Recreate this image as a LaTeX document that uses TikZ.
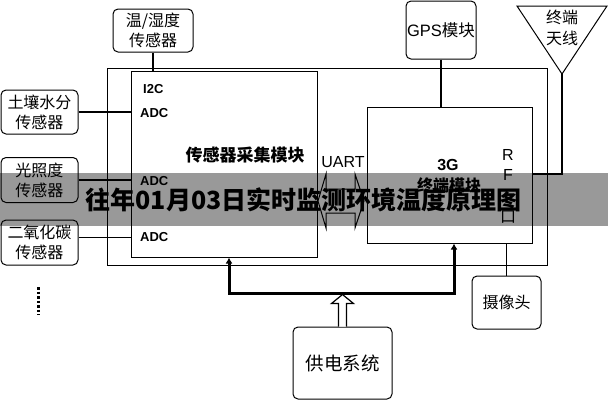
\documentclass[tikz,border=0pt]{standalone}
\usepackage{fontspec}
\setmainfont{Liberation Sans}
\newfontfamily\cjk{Noto Sans CJK SC}
\usetikzlibrary{arrows.meta}
\tikzset{
  rbox/.style={draw, line width=1pt, rounded corners=5pt, inner sep=0pt, align=center,
    font=\cjk\fontsize{16}{20}\selectfont},
  sqbox/.style={draw, line width=1pt, inner sep=0pt},
  link/.style={line width=1.6pt},
  thin link/.style={line width=1.1pt},
  portlbl/.style={anchor=west, inner sep=0pt, font=\bfseries\fontsize{13}{13}\selectfont},
  power/.style={line width=3pt, {Latex[length=6pt,width=7pt]}-{Latex[length=6pt,width=7pt]}},
}
\begin{document}
\begin{tikzpicture}[x=1pt,y=-1pt]
\useasboundingbox (0,0) rectangle (608,400);
\fill[white] (0,0) rectangle (608,400);
% main frames
\node[sqbox, minimum width=440pt, minimum height=197pt] (outer) at (327,166.5) {};
\node[sqbox, fill=white, minimum width=186pt, minimum height=186pt] (sens) at (224,164) {};
\node[sqbox, fill=white, minimum width=165pt, minimum height=136pt] (g3) at (449.5,175) {};
% sensors
\node[rbox, minimum width=80pt, minimum height=43pt] (th) at (153,30.5) {温/湿度\\传感器};
\node[rbox, minimum width=77pt, minimum height=44pt] (soil) at (39.5,112) {土壤水分\\传感器};
\node[rbox, minimum width=77pt, minimum height=45pt] (light) at (39.5,180) {光照度\\传感器};
\node[rbox, minimum width=77pt, minimum height=45pt] (co2) at (39.5,242.5) {二氧化碳\\传感器};
% other modules
\node[rbox, minimum width=70pt, minimum height=58pt, font=\fontsize{16.5}{20}\selectfont] (gps) at (441,30) {GPS{\cjk 模块}};
\node[rbox, minimum width=69pt, minimum height=53pt] (cam) at (506.5,302.5) {摄像头};
\node[rbox, minimum width=99pt, minimum height=72pt, font=\cjk\fontsize{18.5}{22}\selectfont] (pwr) at (342.5,363) {供电系统};
% antenna
\coordinate (antl) at (517,6);
\coordinate (antr) at (607,6);
\coordinate (ant) at (562,74);
\draw[line width=1pt] (antl) -- (antr) -- (ant) -- cycle;
\node[inner sep=0pt, align=center, font=\cjk\fontsize{16}{21}\selectfont] (antlbl) at (562,28) {终端\\天线};
% connectors
\draw[link] (th.south) -- (th.south |- sens.north);
\draw[thin link] (soil.east) -- (soil.east -| sens.west);
\draw[thin link] (light.east) -- (light.east -| sens.west);
\draw[link] ([yshift=5pt]co2.east) -- ([yshift=5pt]co2.east -| sens.west);
\draw[link] (gps.south) -- (gps.south |- g3.north);
\draw[link] (ant) |- ([yshift=1pt]g3.east);
\draw[link] (cam.north) -- (cam.north |- g3.south);
% labels inside sensor module
\node[portlbl] (i2c) at (143,89) {I2C};
\node[portlbl] (adc1) at (140,113) {ADC};
\node[portlbl] (adc2) at (140,181) {ADC};
\node[portlbl] (adc3) at (140,237) {ADC};
\node[inner sep=0pt, font=\cjk\bfseries\fontsize{17}{17}\selectfont] (senslbl) at (245,155) {传感器采集模块};
% 3G module labels
\node[inner sep=0pt, font=\bfseries\fontsize{16}{16}\selectfont] (g3lbl) at (448,165) {3G};
\node[inner sep=0pt, font=\cjk\bfseries\fontsize{16}{16}\selectfont] (g3lbl2) at (449,185) {终端模块};
\node[inner sep=0pt, font=\fontsize{16}{16}\selectfont] (rfr) at (508,155) {R};
\node[inner sep=0pt, font=\fontsize{16}{16}\selectfont] (rff) at (508,175) {F};
\node[inner sep=0pt, font=\cjk\fontsize{16}{16}\selectfont] (rfk) at (508,217) {口};
% UART
\node[inner sep=0pt, font=\fontsize{16}{16}\selectfont] (uart) at (343,162) {UART};
\draw[line width=1pt, fill=white] (318,201) -- (326,174) -- (326,189) -- (355,189) -- (355,174) -- (364,201)
  -- (355,228) -- (355,213) -- (326,213) -- (326,228) -- cycle;
% power distribution
\coordinate (pl) at (229,293);
\coordinate (pr) at (454,293);
\draw[power] (pl |- sens.south) -- (pl) -- (pr) -- (pr |- g3.south);
\draw[line width=1.2pt, fill=white] (pwr.north) ++(-4,0) -- ++(0,-23) -- ++(-7,0) -- ++(11,-9) -- ++(11,9) -- ++(-7,0) -- ++(0,23);
% dots
\draw[line width=3pt, dash pattern=on 2.5pt off 2pt] (38,287) -- (38,315);
% banner
\fill[black, opacity=0.4] (0,173) rectangle (608,226);
\node[inner sep=0pt, font=\cjk\bfseries\fontsize{25}{25}\selectfont] (banner) at (303.5,200) {往年01月03日实时监测环境温度原理图};
\end{tikzpicture}
\end{document}
